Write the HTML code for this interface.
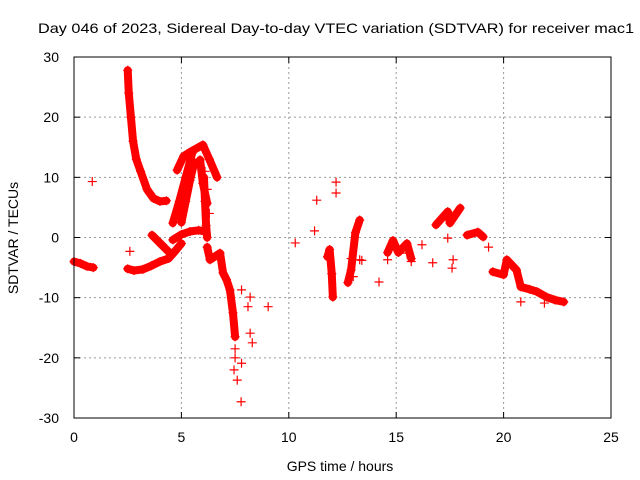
<!DOCTYPE html>
<html><head><meta charset="utf-8"><style>
body{margin:0;background:#fff}
svg{display:block;font-family:"Liberation Sans",sans-serif}
</style></head><body>
<svg id="chart" width="640" height="480" viewBox="0 0 640 480">
<text x="336" y="33" font-size="14" text-anchor="middle" textLength="596" lengthAdjust="spacingAndGlyphs">Day 046 of 2023, Sidereal Day-to-day VTEC variation (SDTVAR) for receiver mac1</text>
<g id="grid"></g>
<g id="ticks"></g>
<g id="marks"></g>
<rect x="74" y="57" width="537" height="361" fill="none" stroke="#000" stroke-width="1"/>
<text x="18" y="238" font-size="14" text-anchor="middle" transform="rotate(-90 18 238)">SDTVAR / TECUs</text>
<text x="340" y="471" font-size="14" text-anchor="middle">GPS time / hours</text>
</svg>
<script>
const xTicks = [0, 5, 10, 15, 20, 25];
const yTicks = [-30, -20, -10, 0, 10, 20, 30];
const trackHours = [
 [0, 0.3, 0.6, 0.9],
 [2.5, 2.55, 2.65, 2.75, 2.9, 3.1, 3.4, 3.7, 4.0, 4.3],
 [2.5, 2.8, 3.2, 3.6, 4.0, 4.4, 4.7, 5.0],
 [3.63, 4.05, 4.47],
 [4.6, 4.9, 5.2, 5.5],
 [5.0, 5.2, 5.4, 5.6],
 [4.8, 5.1, 5.4, 6.0, 6.3, 6.66],
 [5.87, 6.0, 6.2],
 [6.05, 6.1, 6.15, 6.2],
 [4.6, 5.0, 5.4, 5.8, 6.1],
 [6.2, 6.33, 6.8, 6.94, 7.1, 7.26, 7.4, 7.5],
 [19.5, 20.0, 20.15, 20.6, 20.8, 21.2, 21.55, 22.0, 22.4, 22.8],
 [16.85, 17.4, 17.5, 17.98],
 [18.3, 18.8, 19.05],
 [11.8, 11.9, 12.0, 12.05],
 [12.75, 12.9, 13.1, 13.3],
 [14.6, 14.85, 15.1, 15.5, 15.7]
];
const trackValues = [
 [-4, -4.3, -4.8, -5],
 [27.8, 24, 20, 16, 13, 11, 8, 6.5, 6, 6.1],
 [-5.2, -5.5, -5.3, -4.7, -4, -3.5, -2.3, -1],
 [0.4, -1.1, -2.6],
 [2.4, 6, 10, 14],
 [2.5, 6, 9.5, 12.5],
 [11.2, 13.5, 14.2, 15.4, 13, 10],
 [12.9, 9, 5.7],
 [10, 6, 2, 0],
 [-0.4, 0.5, 1, 1.2, 1],
 [-1.6, -3.7, -2.6, -5.9, -7, -8.7, -12.5, -16.5],
 [-5.7, -6.2, -3.7, -5.4, -8.2, -8.6, -9, -9.9, -10.4, -10.7],
 [2.1, 4.3, 2.4, 4.9],
 [0.4, 0.9, 0.1],
 [-3.2, -2, -6, -9.9],
 [-7.5, -5.4, 0.8, 2.9],
 [-2.5, -0.5, -2.5, -1, -3.5]
];
const scatterHours = [0.85, 2.6, 7.5, 7.6, 7.78, 7.8, 7.8, 8.1, 8.2, 8.2, 8.3, 9.04, 10.3, 11.2, 11.3, 12.2, 12.2, 13.3, 14.2, 14.6, 14.85, 15.5, 15.7, 16.2, 16.7, 17.4, 17.6, 17.65, 19.3, 20.8, 21.9, 7.5, 7.45, 6.1, 6.2, 6.3, 12.9, 13.0, 13.4];
const scatterValues = [9.3, -2.3, -20, -23.7, -27.3, -8.7, -20.9, -11.5, -9.9, -15.9, -17.5, -11.5, -0.9, 1.1, 6.2, 9.2, 7.4, -3.7, -7.4, -3.7, -0.9, -2.6, -4, -1.2, -4.2, -0.1, -5.1, -3.7, -1.6, -10.7, -10.9, -18.5, -22, 11, 8, 4, -3.5, -6.5, -3.8];

const NS = "http://www.w3.org/2000/svg";
const X0 = 74, X1 = 611, Y0 = 418, Y1 = 57;
function xs(h){ return X0 + (h - 0) / 25 * (X1 - X0); }
function ys(v){ return Y0 - (v + 30) / 60 * (Y0 - Y1); }
function mk(tag, attrs, parent){ const e = document.createElementNS(NS, tag); for (const k in attrs) e.setAttribute(k, attrs[k]); parent.appendChild(e); return e; }
const grid = document.getElementById('grid'), ticks = document.getElementById('ticks'), marks = document.getElementById('marks');
xTicks.forEach(t => {
  const x = xs(t);
  if (t > 0 && t < 25) {
    const g = mk('line', {x1:x, x2:x, y1:Y1, y2:Y0, stroke:'#999', 'stroke-dasharray':'2,3'}, grid);
    
    
  }
  mk('line', {x1:x, x2:x, y1:Y0, y2:Y0-6, stroke:'#000'}, ticks);
  mk('line', {x1:x, x2:x, y1:Y1, y2:Y1+6, stroke:'#000'}, ticks);
  const l = mk('text', {x:x, y:442, 'font-size':14, 'text-anchor':'middle'}, ticks);
  l.textContent = t;
  
  
});
yTicks.forEach(t => {
  const y = ys(t);
  if (t > -30 && t < 30) {
    const g = mk('line', {x1:X0, x2:X1, y1:y, y2:y, stroke:'#999', 'stroke-dasharray':'2,3'}, grid);
    
    
  }
  mk('line', {x1:X0, x2:X0+6, y1:y, y2:y, stroke:'#000'}, ticks);
  mk('line', {x1:X1, x2:X1-6, y1:y, y2:y, stroke:'#000'}, ticks);
  const l = mk('text', {x:59, y:y+5, 'font-size':14, 'text-anchor':'end'}, ticks);
  l.textContent = t;
  
  
});
function plus(h, v){
  const x = xs(h), y = ys(v);
  const p = mk('path', {d:`M${x-4.5},${y}H${x+4.5}M${x},${y-4.5}V${y+4.5}`, stroke:'#f00', 'stroke-width':1.2, fill:'none'}, marks);
  
  
}
trackHours.forEach((hs, i) => {
  const vs = trackValues[i];
  const pts = hs.map((h, j) => xs(h) + ',' + ys(vs[j])).join(' ');
  const pl = mk('polyline', {points:pts, fill:'none', stroke:'#f00', 'stroke-width':8, 'stroke-linejoin':'round', 'stroke-linecap':'round'}, marks);
  
  
  hs.forEach((h, j) => plus(h, vs[j]));
});
scatterHours.forEach((h, i) => plus(h, scatterValues[i]));
</script>
</body></html>
